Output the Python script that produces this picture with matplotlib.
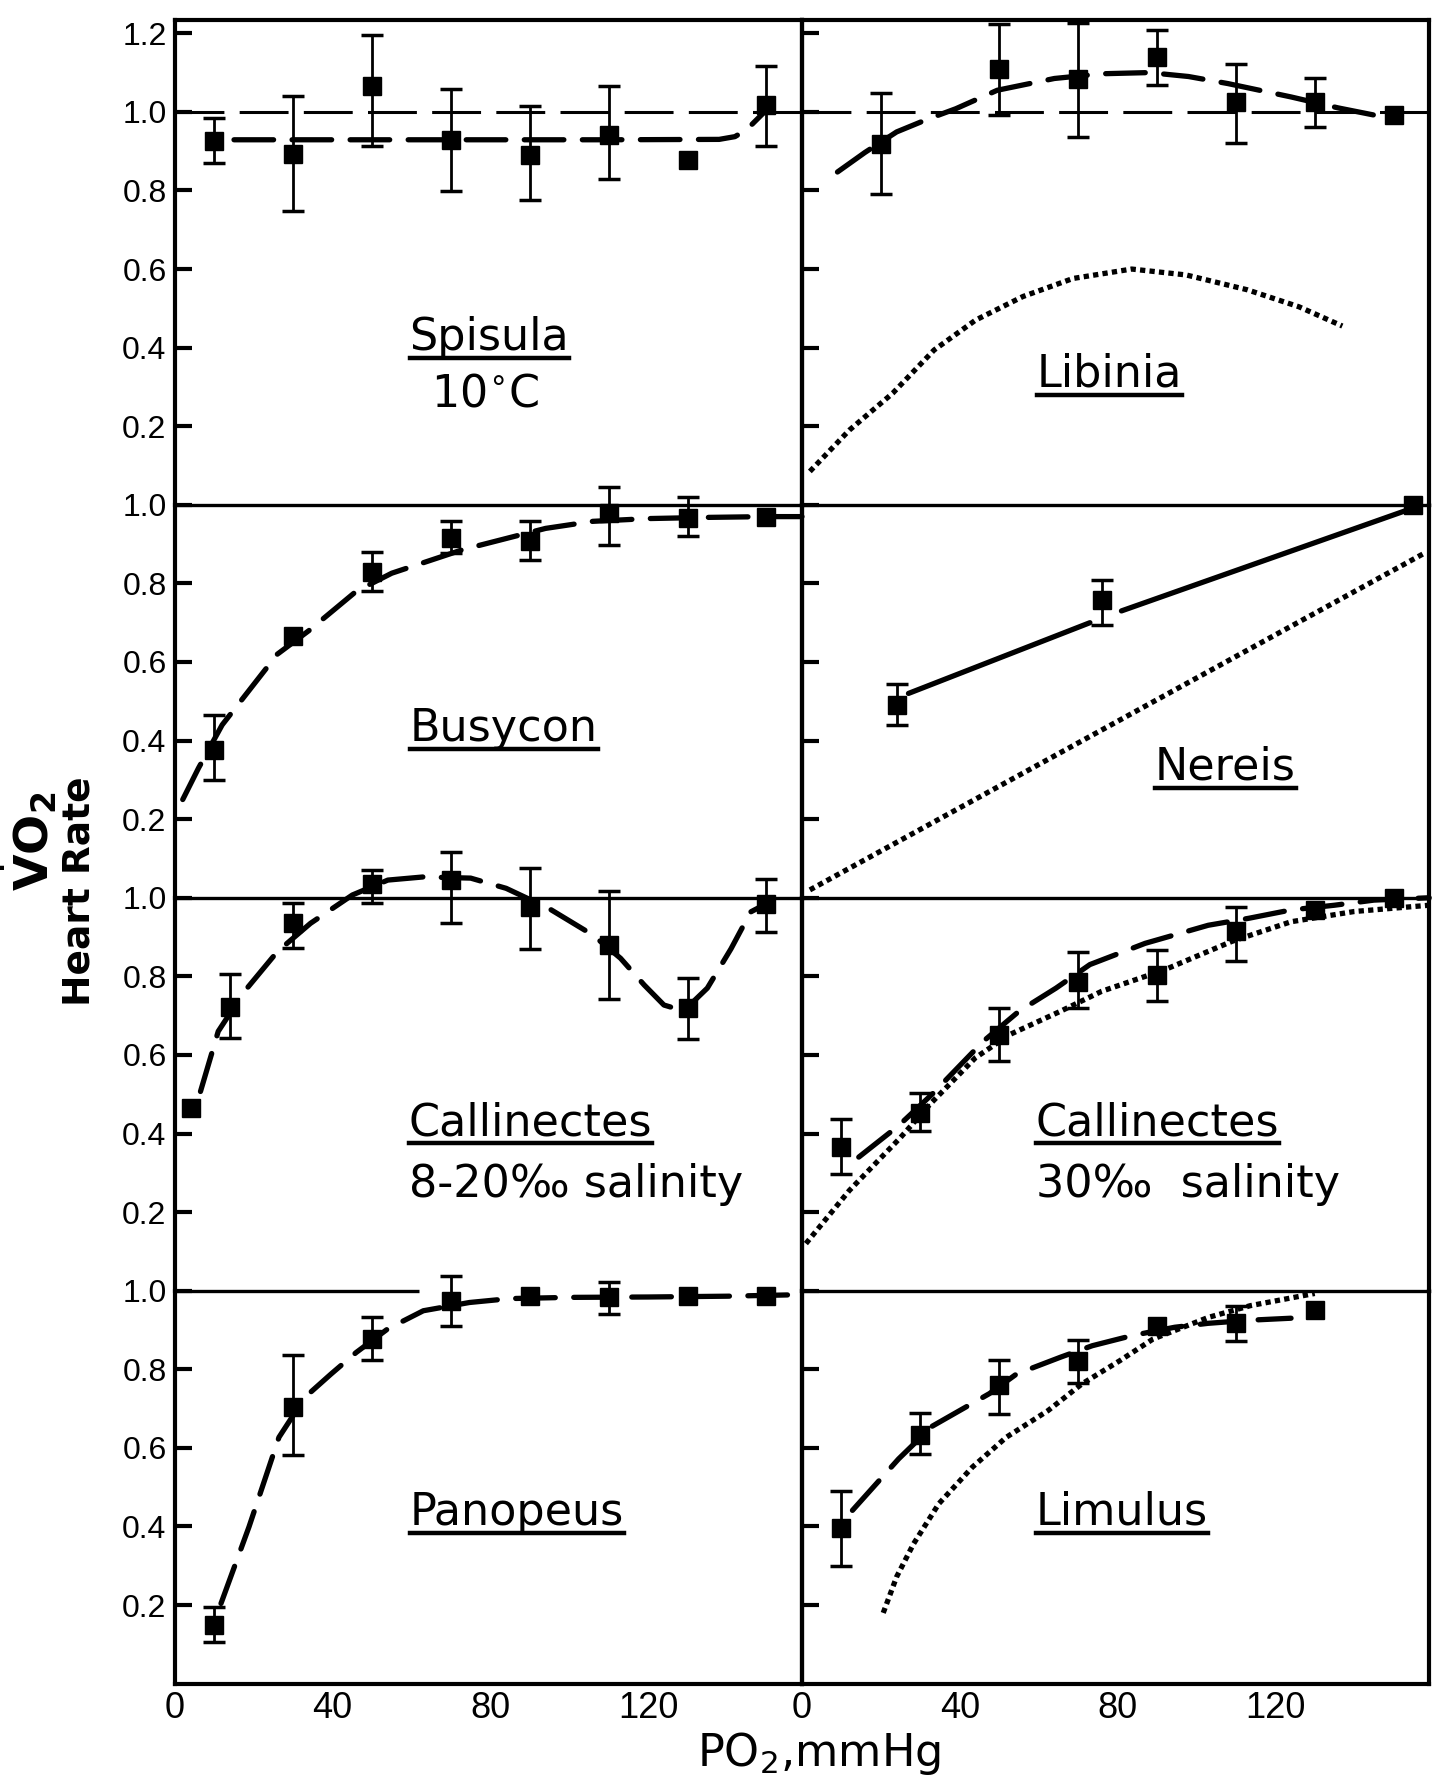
import numpy as np
import matplotlib.pyplot as plt
from matplotlib.lines import Line2D

nan = np.nan

# PO2 (mmHg) of the measurements
po2 = [10, 30, 50, 70, 90, 110, 130, 150]

# --- Spisula 10 C
spisula_y = [0.926, 0.893, 1.065, 0.928, 0.890, 0.941, 0.878, 1.017]
spisula_hi = [0.985, 1.040, 1.196, 1.058, 1.016, 1.067, nan, 1.117]
spisula_lo = [0.871, 0.748, 0.913, 0.799, 0.775, 0.830, nan, 0.913]
spisula_fit_x = [15, 60, 110, 138, 142, 145, 148, 151]
spisula_fit_y = [0.929, 0.929, 0.929, 0.930, 0.937, 0.955, 0.985, 1.015]

# --- Libinia
libinia_x = [20, 50, 70, 90, 110, 130, 150]
libinia_y = [0.918, 1.110, 1.083, 1.140, 1.024, 1.025, 0.993]
libinia_hi = [1.048, 1.223, 1.226, 1.208, 1.121, 1.087, nan]
libinia_lo = [0.792, 0.993, 0.935, 1.068, 0.921, 0.962, nan]
libinia_fit_x = [9, 16, 24, 32, 39, 49.5, 64, 76, 88, 98, 108, 124, 136, 145, 152]
libinia_fit_y = [0.847, 0.897, 0.949, 0.982, 1.008, 1.055, 1.085, 1.097, 1.100, 1.090,
                 1.072, 1.038, 1.010, 0.992, 0.990]
libinia_hr_x = [2, 12, 23, 33.5, 44, 56, 68.7, 83.6, 97.4, 113, 126, 137]
libinia_hr_y = [0.085, 0.190, 0.284, 0.394, 0.470, 0.530, 0.576, 0.600, 0.585, 0.547,
                0.504, 0.455]

# --- Busycon
busycon_y = [0.376, 0.666, 0.828, 0.916, 0.907, 0.980, 0.967, 0.969]
busycon_hi = [0.466, nan, 0.880, 0.959, 0.959, 1.045, 1.020, nan]
busycon_lo = [0.300, nan, 0.780, 0.877, 0.860, 0.899, 0.920, nan]
busycon_fit_x = [2, 6, 12, 19, 26, 34, 46, 55, 73, 94, 106, 120, 135, 150, 159]
busycon_fit_y = [0.25, 0.33, 0.44, 0.53, 0.62, 0.68, 0.78, 0.826, 0.886, 0.94, 0.958,
                 0.965, 0.968, 0.970, 0.970]

# --- Nereis
nereis_x = [24, 76, 155]
nereis_y = [0.490, 0.757, 1.000]
nereis_hi = [0.545, 0.808, nan]
nereis_lo = [0.440, 0.693, nan]
nereis_fit_x = [27, 73, nan, 81, 153]
nereis_fit_y = [0.52, 0.70, nan, 0.73, 0.985]
nereis_hr_x = [2, 158]
nereis_hr_y = [0.02, 0.878]

# --- Callinectes 8-20 o/oo
call20_x = [4, 14, 30, 50, 70, 90, 110, 130, 150]
call20_y = [0.465, 0.723, 0.935, 1.034, 1.045, 0.977, 0.880, 0.719, 0.983]
call20_hi = [nan, 0.805, 0.986, 1.070, 1.117, 1.075, 1.017, 0.797, 1.049]
call20_lo = [nan, 0.643, 0.871, 0.986, 0.935, 0.870, 0.743, 0.641, 0.914]
call20_fit_x = [6.5, 11, 17.5, 26, 34.4, 45, 54, 63, 75, 84, 94.8, 106, 113, 119, 124,
                129, 135, 141, 146, 150]
call20_fit_y = [0.507, 0.66, 0.76, 0.863, 0.935, 1.007, 1.045, 1.053, 1.05, 1.024,
                0.973, 0.905, 0.846, 0.778, 0.727, 0.712, 0.77, 0.87, 0.964, 0.985]

# --- Callinectes 30 o/oo
call30_y = [0.365, 0.451, 0.652, 0.785, 0.804, 0.916, 0.970, 1.000]
call30_hi = [0.437, 0.504, 0.720, 0.863, 0.867, 0.977, nan, nan]
call30_lo = [0.297, 0.407, 0.584, 0.720, 0.736, 0.840, nan, nan]
call30_fit_x = [14.4, 24.5, 33, 46, 55, 64.4, 73, 87, 103, 113.4, 124, 135, 145, 159]
call30_fit_y = [0.34, 0.42, 0.50, 0.635, 0.711, 0.77, 0.83, 0.884, 0.93, 0.948, 0.969,
                0.981, 0.994, 1.0]
call30_hr_x = [1, 12, 25, 32.5, 44, 52.7, 65.5, 76, 92, 109, 124, 140, 159]
call30_hr_y = [0.12, 0.255, 0.39, 0.475, 0.593, 0.652, 0.711, 0.762, 0.817, 0.889,
               0.939, 0.965, 0.981]

# --- Panopeus
panopeus_y = [0.149, 0.704, 0.877, 0.973, 0.986, 0.983, 0.986, 0.987]
panopeus_hi = [0.196, 0.837, 0.934, 1.038, nan, 1.021, nan, nan]
panopeus_lo = [0.107, 0.583, 0.824, 0.910, nan, 0.941, nan, nan]
panopeus_fit_x = [11.7, 18.8, 26.4, 33, 39.6, 46, 54, 63, 74.7, 85, 100, 120, 140, 159]
panopeus_fit_y = [0.204, 0.399, 0.627, 0.729, 0.788, 0.843, 0.903, 0.949, 0.97, 0.98,
                  0.983, 0.984, 0.986, 0.99]
panopeus_ref_x = [0, 62]

# --- Limulus
limulus_x = [10, 30, 50, 70, 90, 110, 130]
limulus_y = [0.395, 0.632, 0.759, 0.822, 0.909, 0.917, 0.951]
limulus_hi = [0.489, 0.688, 0.824, 0.875, nan, 0.960, nan]
limulus_lo = [0.299, 0.585, 0.687, 0.765, nan, 0.873, nan]
limulus_fit_x = [12.8, 24.5, 33, 47.5, 54.4, 65.6, 73.6, 83.8, 94.5, 103, 113.7, 124]
limulus_fit_y = [0.441, 0.572, 0.655, 0.738, 0.788, 0.831, 0.86, 0.886, 0.907, 0.917,
                 0.925, 0.93]
limulus_hr_x = [20.6, 24, 28.3, 34.7, 43.2, 51.8, 62.4, 71, 80.6, 89, 103, 113.7, 130]
limulus_hr_y = [0.18, 0.272, 0.356, 0.458, 0.551, 0.627, 0.695, 0.763, 0.822, 0.877,
                0.932, 0.962, 0.993]

x_ticks = [0, 40, 80, 120]

plt.rcParams['font.family'] = ['DejaVu Sans']
tick_font = ['Liberation Sans Narrow', 'Liberation Sans', 'DejaVu Sans']

panels = [
    # row, col, x, y, hi, lo, fit, heart rate, name, sub
    (0, 0, po2, spisula_y, spisula_hi, spisula_lo, (spisula_fit_x, spisula_fit_y), None,
     'Spisula', '10$^{\\circ}$C', (59.5, 0.395), (65, 0.25)),
    (0, 1, libinia_x, libinia_y, libinia_hi, libinia_lo, (libinia_fit_x, libinia_fit_y),
     (libinia_hr_x, libinia_hr_y), 'Libinia', None, (59.5, 0.30), None),
    (1, 0, po2, busycon_y, busycon_hi, busycon_lo, (busycon_fit_x, busycon_fit_y), None,
     'Busycon', None, (59.5, 0.40), None),
    (1, 1, nereis_x, nereis_y, nereis_hi, nereis_lo, (nereis_fit_x, nereis_fit_y),
     (nereis_hr_x, nereis_hr_y), 'Nereis', None, (89.5, 0.30), None),
    (2, 0, call20_x, call20_y, call20_hi, call20_lo, (call20_fit_x, call20_fit_y), None,
     'Callinectes', '8-20\u2030 salinity', (59.3, 0.395), (59.3, 0.238)),
    (2, 1, po2, call30_y, call30_hi, call30_lo, (call30_fit_x, call30_fit_y),
     (call30_hr_x, call30_hr_y), 'Callinectes', '30\u2030  salinity', (59.3, 0.395),
     (59.3, 0.238)),
    (3, 0, po2, panopeus_y, panopeus_hi, panopeus_lo, (panopeus_fit_x, panopeus_fit_y),
     None, 'Panopeus', None, (59.5, 0.404), None),
    (3, 1, limulus_x, limulus_y, limulus_hi, limulus_lo, (limulus_fit_x, limulus_fit_y),
     (limulus_hr_x, limulus_hr_y), 'Limulus', None, (59.3, 0.404), None),
]

fig = plt.figure(figsize=(14.45, 17.76), dpi=100)
gs = fig.add_gridspec(4, 2, height_ratios=[1.235, 1, 1, 1], hspace=0, wspace=0,
                      left=0.121, right=0.989, top=0.989, bottom=0.052)

titles = []
for row, col, x, y, hi, lo, fit, hr, name, sub, name_pos, sub_pos in panels:
    ax = fig.add_subplot(gs[row, col])
    ax.set_facecolor('none')
    ax.set_xlim(0, 159)
    if row == 0:
        ax.set_ylim(0, 1.235)
        ax.set_yticks([0.2, 0.4, 0.6, 0.8, 1.0, 1.2])
        ax.axhline(1.0, color='k', lw=2.2, dashes=(16, 5), zorder=1)
    else:
        ax.set_ylim(0, 1.0)
        ax.set_yticks([0.2, 0.4, 0.6, 0.8, 1.0])
        ax.spines['top'].set_linewidth(2.4)
    if row < 3:
        ax.spines['bottom'].set_visible(False)
        ax.tick_params(axis='x', bottom=False, labelbottom=False)
    else:
        ax.set_xticks(x_ticks)
        ax.tick_params(axis='x', length=0, pad=5)
        for lab in ax.get_xticklabels():
            lab.set_fontsize(26)
            lab.set_family(tick_font)
    for s in ['left', 'right', 'bottom']:
        ax.spines[s].set_linewidth(3.0)
    if row == 0:
        ax.spines['top'].set_linewidth(3.0)
    ax.tick_params(axis='y', direction='in', length=12, width=3, pad=6,
                   labelleft=(col == 0))
    if col == 0:
        ax.set_yticklabels(['%.1f' % t for t in ax.get_yticks()])
        for lab in ax.get_yticklabels():
            lab.set_fontsize(23)
            lab.set_family(tick_font)

    if name == 'Panopeus':
        ax.spines['top'].set_visible(False)
        ax.plot(panopeus_ref_x, [1.0, 1.0], color='k', lw=2.4, clip_on=False,
                solid_capstyle='butt')

    # dotted curve (heart rate)
    if hr is not None:
        ax.plot(hr[0], hr[1], color='k', lw=3.8, dashes=(1.0, 0.8),
                dash_capstyle='butt', clip_on=False, zorder=2)
    # dashed curve (VO2)
    ls = '-' if name == 'Nereis' else '--'
    line, = ax.plot(fit[0], fit[1], color='k', lw=3.8, linestyle=ls, clip_on=False,
                    zorder=2, solid_capstyle='round', dash_capstyle='round')
    if ls == '--':
        line.set_dashes((7.5, 3.5))

    xa = np.array(x, float)
    ya = np.array(y, float)
    ha = np.array(hi, float)
    la = np.array(lo, float)
    m = ~np.isnan(ha)
    eb = ax.errorbar(xa[m], ya[m], yerr=[ya[m] - la[m], ha[m] - ya[m]], fmt='none',
                     ecolor='k', elinewidth=2.0, capsize=8, capthick=2.5, zorder=3)
    for a in list(eb.lines[1]) + list(eb.lines[2]):
        a.set_clip_on(False)
    ax.plot(xa, ya, 's', color='k', ms=13, zorder=4, clip_on=False)

    t = ax.text(name_pos[0], name_pos[1], name, fontsize=32, ha='left', va='baseline')
    titles.append(t)
    if sub is not None:
        ax.text(sub_pos[0], sub_pos[1], sub, fontsize=32, ha='left', va='baseline')

fig.text(0.020, 0.526, r'$\dot{\mathbf{V}}\mathbf{O}_\mathbf{2}$', rotation=90,
         fontsize=34, ha='center', va='center')
fig.text(0.055, 0.498, 'Heart Rate', rotation=90, fontsize=27, fontweight='bold',
         ha='center', va='center')
fig.text(0.567, 0.0125, 'PO$_2$,mmHg', fontsize=32, ha='center', va='center')

# underline the species names
fig.canvas.draw()
renderer = fig.canvas.get_renderer()
inv = fig.transFigure.inverted()
for t in titles:
    bb = t.get_window_extent(renderer)
    _, yb = t.get_transform().transform(t.get_position())
    (fx0, fy), (fx1, _) = inv.transform([(bb.x0, yb - 8), (bb.x1, yb - 8)])
    fig.add_artist(Line2D([fx0, fx1], [fy, fy], color='k', lw=3.2,
                          transform=fig.transFigure))

fig.savefig('out.png', dpi=100, facecolor='white')
